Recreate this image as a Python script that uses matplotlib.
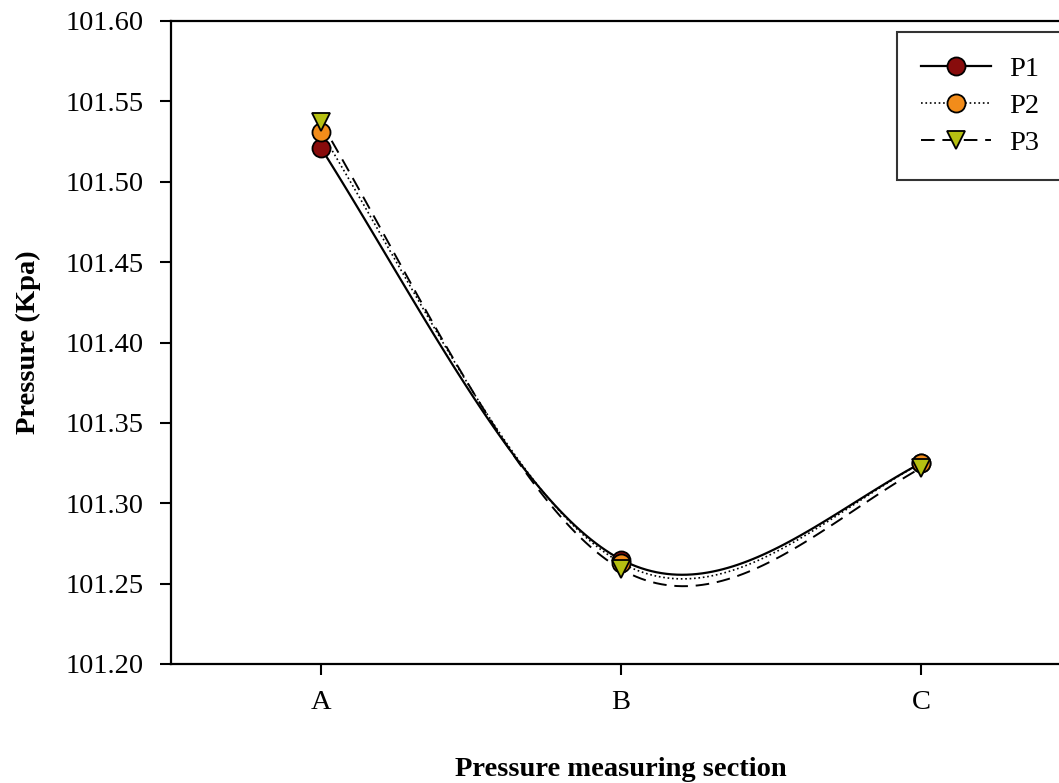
import numpy as np
import matplotlib
matplotlib.use('Agg')
import matplotlib.pyplot as plt

sections = ['A', 'B', 'C']
p1 = [101.521, 101.265, 101.325]
p2 = [101.531, 101.263, 101.325]
p3 = [101.537, 101.259, 101.322]

plt.rcParams['font.family'] = ['Liberation Serif', 'DejaVu Serif']


def smooth_curve(x, y, n=60):
    # cubic hermite through the points; interior tangents by central differences,
    # end tangents halfway between the secant and the natural-spline end slope
    x = np.asarray(x, float)
    y = np.asarray(y, float)
    m = np.gradient(y, x)
    s0 = (y[1] - y[0]) / (x[1] - x[0])
    s1 = (y[-1] - y[-2]) / (x[-1] - x[-2])
    m[0] = 0.5 * (s0 + (1.5 * s0 - 0.5 * m[1]))
    m[-1] = 0.5 * (s1 + (1.5 * s1 - 0.5 * m[-2]))
    xs_all, ys_all = [], []
    for i in range(len(x) - 1):
        h = x[i + 1] - x[i]
        t = np.linspace(0, 1, n)
        h00 = 2 * t**3 - 3 * t**2 + 1
        h10 = t**3 - 2 * t**2 + t
        h01 = -2 * t**3 + 3 * t**2
        h11 = t**3 - t**2
        xs_all.append(x[i] + t * h)
        ys_all.append(h00 * y[i] + h10 * h * m[i] + h01 * y[i + 1] + h11 * h * m[i + 1])
    return np.concatenate(xs_all), np.concatenate(ys_all)


fig = plt.figure(figsize=(10.59, 7.83), dpi=100)
ax = fig.add_axes([171 / 1059, 119 / 783, 900 / 1059, 643 / 783])

xpos = np.arange(len(sections))
series = [
    (p1, '-', 'o', '#880c0c', 'P1', 1.6),
    (p2, ':', 'o', '#f28c1a', 'P2', 1.2),
    (p3, (0, (7, 4)), 'v', '#b6c012', 'P3', 1.4),
]
for vals, ls, mk, col, lab, lw in series:
    xs, ys = smooth_curve(xpos, vals)
    ax.plot(xs, ys, color='black', linestyle=ls, linewidth=lw, zorder=2)
    ax.plot(xpos, vals, linestyle='none', marker=mk, markersize=13,
            markerfacecolor=col, markeredgecolor='black', markeredgewidth=1.3, zorder=3)
    ax.plot([], [], color='black', linestyle=ls, linewidth=lw, marker=mk, markersize=13,
            markerfacecolor=col, markeredgecolor='black', markeredgewidth=1.3, label=lab)

ax.set_xlim(-0.5, 2.5)
ax.set_ylim(101.20, 101.60)
ax.set_xticks(xpos)
ax.set_xticklabels(sections)
yt = np.arange(101.20, 101.601, 0.05)
ax.set_yticks(yt)
ax.set_yticklabels([f'{v:.2f}' for v in yt])
ax.tick_params(direction='out', length=8, width=1.5, labelsize=20.5)
ax.tick_params(axis='y', pad=12)
ax.tick_params(axis='x', pad=11)
for s in ax.spines.values():
    s.set_linewidth(1.6)

ax.set_ylabel('Pressure (Kpa)', fontsize=20.5, fontweight='bold', labelpad=17)
ax.set_xlabel('Pressure measuring section', fontsize=20.5, fontweight='bold', labelpad=30)

leg = ax.legend(loc='upper left', bbox_to_anchor=(897 / 1059, 1 - 32 / 783), bbox_transform=fig.transFigure,
                borderaxespad=0, fontsize=20.5, frameon=True, fancybox=False, edgecolor='black',
                handlelength=2.45, handletextpad=0.65, borderpad=0.85, labelspacing=0.38)
leg.get_frame().set_linewidth(1.5)

fig.savefig('out.png', dpi=100)
